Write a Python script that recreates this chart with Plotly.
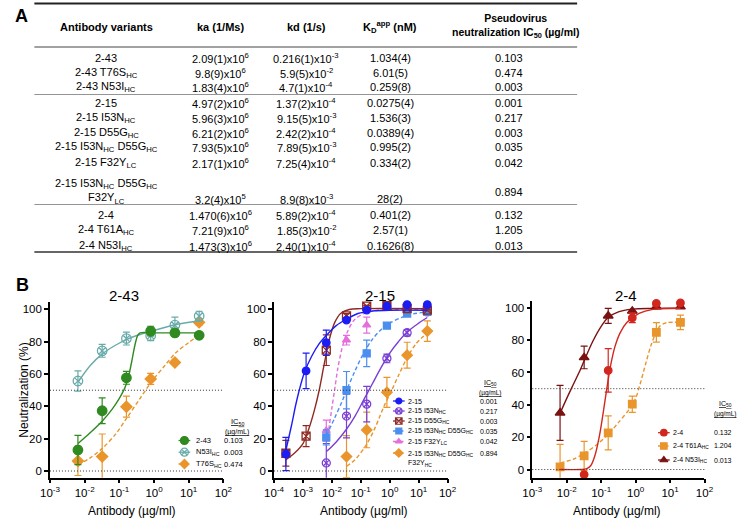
import numpy as np
import plotly.graph_objects as go

W, H = 744, 518
FONT = "Liberation Sans, Arial, sans-serif"

# ---------------- Panel A: table data ----------------
variants = ["2-43", "2-43 T76S<sub>HC</sub>", "2-43 N53I<sub>HC</sub>",
            "2-15", "2-15 I53N<sub>HC</sub>", "2-15 D55G<sub>HC</sub>",
            "2-15 I53N<sub>HC</sub> D55G<sub>HC</sub>", "2-15 F32Y<sub>LC</sub>",
            "2-15 I53N<sub>HC</sub> D55G<sub>HC</sub><br>F32Y<sub>LC</sub>",
            "2-4", "2-4 T61A<sub>HC</sub>", "2-4 N53I<sub>HC</sub>"]
ka = ["2.09(1)x10<sup>6</sup>", "9.8(9)x10<sup>6</sup>", "1.83(4)x10<sup>6</sup>",
      "4.97(2)x10<sup>6</sup>", "5.96(3)x10<sup>6</sup>", "6.21(2)x10<sup>6</sup>",
      "7.93(5)x10<sup>6</sup>", "2.17(1)x10<sup>6</sup>", "3.2(4)x10<sup>5</sup>",
      "1.470(6)x10<sup>6</sup>", "7.21(9)x10<sup>6</sup>", "1.473(3)x10<sup>6</sup>"]
kd = ["0.216(1)x10<sup>-3</sup>", "5.9(5)x10<sup>-2</sup>", "4.7(1)x10<sup>-4</sup>",
      "1.37(2)x10<sup>-4</sup>", "9.15(5)x10<sup>-3</sup>", "2.42(2)x10<sup>-4</sup>",
      "7.89(5)x10<sup>-3</sup>", "7.25(4)x10<sup>-4</sup>", "8.9(8)x10<sup>-3</sup>",
      "5.89(2)x10<sup>-4</sup>", "1.85(3)x10<sup>-2</sup>", "2.40(1)x10<sup>-4</sup>"]
kd_app = ["1.034(4)", "6.01(5)", "0.259(8)", "0.0275(4)", "1.536(3)", "0.0389(4)",
          "0.995(2)", "0.334(2)", "28(2)", "0.401(2)", "2.57(1)", "0.1626(8)"]
ic50_table = ["0.103", "0.474", "0.003", "0.001", "0.217", "0.003", "0.035",
              "0.042", "0.894", "0.132", "1.205", "0.013"]
table_headers = ["Antibody variants", "ka (1/Ms)", "kd (1/s)",
                 "K<sub>D</sub><sup>app</sup> (nM)",
                 "Pseudovirus<br>neutralization IC<sub>50</sub> (µg/ml)"]

# ---------------- Panel B: neutralization data ----------------
# concentrations (µg/ml)
conc6 = [0.0064, 0.032, 0.16, 0.8, 4, 20]
conc8 = [0.000256, 0.00128, 0.0064, 0.032, 0.16, 0.8, 4, 20]
conc5 = [0.032, 0.16, 0.8, 4, 20]
conc3 = [0.0064, 0.032, 0.16]

# 2-43 panel
ab243_y = [13, 37.3, 57.7, 86.6, 85.5, 84]
ab243_err = [9, 8, 4, 3, 2, 1]
n53i_243_y = [55.7, 74.4, 82, 83.7, 90.3, 95.9]
n53i_243_err = [6.3, 4, 4, 3, 5, 3]
t76s_y = [6.2, 8.9, 39.8, 57, 67.2, 92]
t76s_err = [9, 14, 6.5, 3.4, 0, 1.5]

# 2-15 panel
ab215_y = [10.5, 62, 79.4, 93.4, 99.6, 102, 103, 103]
ab215_err = [10.3, 11, 7.8, 1, 0.5, 0.5, 0.5, 0.5]
d55g_y = [11, 21.6, 74.8, 96, 102, 102.4, 100.6, 99.6]
d55g_err = [8, 6.5, 9.5, 1.5, 0.5, 0.5, 0.5, 0.5]
i53n_y = [5, 34, 41.4, 69.7, 85.6, 98.5]
i53n_err = [12, 13.5, 11, 2.7, 2, 1.5]
i53n_d55g_y = [20.8, 50, 72.8, 90, 97.5, 98.5]
i53n_d55g_err = [4.7, 11.6, 8.2, 1, 1, 1]
f32y_y = [25, 81, 90.3]
f32y_err = [6.5, 3, 5]
triple_y = [8.9, 25.4, 48.7, 71.7, 86.6]
triple_err = [13, 11, 9.3, 8, 6.3]

# 2-4 panel
ab24_y = [-3.1, 61.3, 93.8, 102.7, 103]
ab24_err = [0, 13.5, 3, 1, 1]
t61a_y = [1.6, 8.4, 22.7, 40.4, 84.8, 91]
t61a_err = [14, 9, 10.5, 5, 6, 4.5]
n53i_24_y = [35, 69.3, 95, 98, 100.6, 100.6]
n53i_24_err = [17, 7, 4.6, 0, 1, 1]

# fitted curves (log10 concentration, % neutralization)
c_ab243_x = [-2.19, -1.85, -1.49, -1.2, -1.0, -0.85, -0.75, -0.65, -0.55, -0.47, -0.4, 0.0, 1.3]
c_ab243_y = [17, 23.5, 31, 38.5, 45, 51, 57, 67, 78, 84, 85.5, 85.5, 85.5]
c_n53i_243_x = [-2.19, -1.85, -1.49, -1.1, -0.78, -0.4, 0.0, 0.6, 1.3]
c_n53i_243_y = [55, 65, 72.5, 78, 81.5, 84.5, 87, 90.5, 93]
c_t76s_x = [-2.19, -1.85, -1.49, -1.1, -0.78, -0.4, -0.08, 0.3, 0.62, 1.0, 1.3]
c_t76s_y = [3.7, 8, 14, 23, 33, 45, 55, 65, 73, 79.5, 84]

c_ab215_x = [-3.59, -3.4, -3.25, -3.13, -2.95, -2.7, -2.45, -2.19, -1.85, -1.49, -1.1, -0.6, 0.0, 1.3]
c_ab215_y = [13, 28, 41, 50, 61, 71, 78.5, 84, 90, 94, 97.5, 99, 99.5, 99.5]
c_d55g_x = [-3.59, -3.3, -3.0, -2.8, -2.6, -2.44, -2.3, -2.19, -2.05, -1.9, -1.7, -1.4, -1.0, 1.3]
c_d55g_y = [7, 11, 17, 26, 38, 50, 63, 73, 84, 92, 97.5, 100, 100.5, 100.5]
c_f32y_x = [-2.19, -2.1, -2.0, -1.9, -1.8, -1.65, -1.49, -1.25, -0.9, -0.4, 0.5, 1.3]
c_f32y_y = [18, 27, 39, 51, 63, 76, 85, 93, 97.5, 99.5, 100, 100]
c_i53n_d55g_x = [-2.19, -1.9, -1.65, -1.49, -1.2, -0.9, -0.6, -0.3, 0.0, 0.4, 0.8, 1.3]
c_i53n_d55g_y = [22, 33, 43, 50, 62, 73, 81.5, 87.5, 91.5, 95, 97.2, 98.5]
c_i53n_x = [-2.19, -1.85, -1.49, -1.2, -0.9, -0.6, -0.3, 0.0, 0.3, 0.6, 1.0, 1.3]
c_i53n_y = [12, 18, 26, 34, 44, 54, 64, 73, 80, 86, 91.5, 95]
c_triple_x = [-1.49, -1.2, -0.8, -0.5, -0.2, 0.07, 0.3, 0.6, 0.9, 1.3]
c_triple_y = [3, 7, 16.5, 27, 40, 50, 59, 70, 78.5, 85.5]

c_ab24_x = [-2.19, -1.6, -1.42, -1.3, -1.19, -1.05, -0.95, -0.83, -0.72, -0.6, -0.45, -0.25, 0.1, 0.5, 1.3]
c_ab24_y = [0, 0, 0.5, 2.5, 8, 21, 34, 51, 65, 76, 84.5, 91, 96.5, 99, 99.7]
c_n53i_24_x = [-2.19, -2.0, -1.8, -1.6, -1.49, -1.25, -1.0, -0.8, -0.5, -0.1, 0.5, 1.3]
c_n53i_24_y = [35, 44, 53, 62, 67.5, 79, 88.5, 94, 97.5, 99.2, 99.6, 99.7]
c_t61a_x = [-2.19, -1.8, -1.49, -1.15, -0.83, -0.5, -0.16, 0.0, 0.12, 0.3, 0.45, 0.6, 0.72, 0.9, 1.3]
c_t61a_y = [4, 6.5, 10, 15, 21, 29, 38, 44, 52, 66, 77, 85, 89, 90.8, 91]

# legend texts
p1_labels = ["2-43", "N53I<sub>HC</sub>", "T76S<sub>HC</sub>"]
p1_ic50 = ["0.103", "0.003", "0.474"]
p2_labels = ["2-15", "2-15 I53N<sub>HC</sub>", "2-15 D55G<sub>HC</sub>",
             "2-15 I53N<sub>HC</sub> D55G<sub>HC</sub>", "2-15 F32Y<sub>LC</sub>",
             "2-15 I53N<sub>HC</sub> D55G<sub>HC</sub><br>F32Y<sub>HC</sub>"]
p2_ic50 = ["0.001", "0.217", "0.003", "0.035", "0.042", "0.894"]
p3_labels = ["2-4", "2-4 T61A<sub>HC</sub>", "2-4 N53I<sub>HC</sub>"]
p3_ic50 = ["0.132", "1.204", "0.013"]

panel_titles = ["2-43", "2-15", "2-4"]
xtick_vals = [1e-4, 1e-3, 1e-2, 1e-1, 1, 10, 100]
xtick_text = ["10<sup>-4</sup>", "10<sup>-3</sup>", "10<sup>-2</sup>", "10<sup>-1</sup>",
              "10<sup>0</sup>", "10<sup>1</sup>", "10<sup>2</sup>"]

# colours
GREEN = "#2f8a1f"
TEAL = "#69abaa"
ORANGE = "#e9952c"
BLUE = "#1c1cf5"
PURPLE = "#7a3fd4"
BROWN = "#8e2a22"
LBLUE = "#4a8ff0"
PINK = "#e46edb"
RED = "#d2271e"
MAROON = "#7a1212"
DASH = "4px,2.5px"


def fx(p):
    return p / W


def fy(p):
    return 1 - p / H


fig = go.Figure()
ann = []
shapes = []

# ---------------- Panel A ----------------
ann.append(dict(text="<b>A</b>", x=fx(11.5), y=fy(16), font=dict(size=18)))
ann.append(dict(text="<b>B</b>", x=fx(13), y=fy(285), font=dict(size=18)))

col_x = [99, 216, 304, 390, 519]
hdr_y = [27, 27, 27, 27, 26.5]
hdr_fs = [11, 11, 11, 11, 10.5]
for i, t in enumerate(table_headers):
    ann.append(dict(text="<b>" + t + "</b>", x=fx(col_x[i]), y=fy(hdr_y[i]),
                    font=dict(size=hdr_fs[i])))
row_y = [58.5, 73, 87.5, 102.5, 117.5, 132.5, 147.5, 162.5, 191.5, 214.5, 230, 245.5]
for r in range(len(variants)):
    yv = row_y[r]
    yval = 198.5 if "<br>" in variants[r] else yv
    ann.append(dict(text=variants[r], x=fx(col_x[0]), y=fy(yv), font=dict(size=11)))
    ann.append(dict(text=ka[r], x=fx(col_x[1]), y=fy(yval), font=dict(size=11)))
    ann.append(dict(text=kd[r], x=fx(col_x[2]), y=fy(yval), font=dict(size=11)))
    ann.append(dict(text=kd_app[r], x=fx(col_x[3]), y=fy(yval), font=dict(size=11)))
    ann.append(dict(text=ic50_table[r], x=fx(512), y=fy(yv), font=dict(size=11)))

for yy, col, wd in [(3.5, "#222", 1.8), (47, "#444", 1.2), (94.5, "#888", 0.9),
                    (204.5, "#888", 0.9), (252, "#333", 1.3)]:
    shapes.append(dict(type="line", xref="paper", yref="paper", x0=fx(25), x1=fx(582),
                       y0=fy(yy), y1=fy(yy), line=dict(color=col, width=wd)))

# ---------------- Panel B axes ----------------
doms = [((41, 219), (301.7, 477.7), [-3, 2], [-4.15, 104.8]),
        ((271, 449), (301.7, 477.7), [-4, 2], [-4.15, 104.8]),
        ((536, 712.7), (301.0, 477.7), [-3, 2], [-5.05, 104.2])]
title_x = [117, 380, 632]
xtitle_x = [125, 363, 623]
axis_common = dict(showline=True, linecolor="black", linewidth=1.5, ticks="outside",
                   ticklen=4, tickwidth=1.5, tickcolor="black", showgrid=False,
                   zeroline=False, tickfont=dict(size=11.5, color="black", family=FONT))
layout_axes = {}
for i, (xd, yd, xr, yr) in enumerate(doms):
    n = "" if i == 0 else str(i + 1)
    layout_axes["xaxis" + n] = dict(axis_common, type="log", domain=[fx(xd[0]), fx(xd[1])],
                                    range=xr, anchor="y" + n, tickvals=xtick_vals,
                                    ticktext=xtick_text)
    layout_axes["yaxis" + n] = dict(axis_common, domain=[fy(yd[1]), fy(yd[0])], range=yr,
                                    anchor="x" + n, tickvals=[0, 20, 40, 60, 80, 100])
    for lvl in (50, 0):
        shapes.append(dict(type="line", xref="x" + n + " domain", yref="y" + n,
                           x0=0, x1=1, y0=lvl, y1=lvl,
                           line=dict(color="#333", width=1, dash="1px,2px")))
    ann.append(dict(text=panel_titles[i], x=fx(title_x[i]), y=fy(295), font=dict(size=15)))
    ann.append(dict(text="Antibody (µg/ml)", x=fx(xtitle_x[i]), y=fy(510.5),
                    font=dict(size=12)))
ann.append(dict(text="Neutralization (%)", x=fx(14), y=fy(390), textangle=-90,
                font=dict(size=12)))

# overlay canvas (pixel coordinates) used only for the legend keys
layout_axes["xaxis4"] = dict(domain=[0, 1], range=[0, W], visible=False,
                             anchor="y4", fixedrange=True)
layout_axes["yaxis4"] = dict(domain=[0, 1], range=[H, 0], visible=False,
                             anchor="x4", fixedrange=True)


def add_series(n, conc, vals, errs, color, symbol, size, cx, cy, dash):
    xa, ya = "x" + n, "y" + n
    fig.add_trace(go.Scatter(x=[10 ** v for v in cx], y=cy, mode="lines", xaxis=xa, yaxis=ya,
                             line=dict(color=color, width=1.4, dash=dash, shape="spline",
                                       smoothing=0.9),
                             showlegend=False, hoverinfo="skip"))
    fig.add_trace(go.Scatter(x=conc, y=vals, mode="markers", xaxis=xa, yaxis=ya,
                             marker=dict(color=color, symbol=symbol, size=size,
                                         line=dict(color=color, width=1.3)),
                             error_y=dict(type="data", array=errs, color=color,
                                          thickness=1.2, width=3.5),
                             cliponaxis=False, showlegend=False))


# panel 2-43
add_series("", conc6, t76s_y, t76s_err, ORANGE, "diamond", 8.5, c_t76s_x, c_t76s_y, DASH)
add_series("", conc6, n53i_243_y, n53i_243_err, TEAL, "circle-x-open", 9.5,
           c_n53i_243_x, c_n53i_243_y, "solid")
add_series("", conc6, ab243_y, ab243_err, GREEN, "circle", 9.5, c_ab243_x, c_ab243_y, "solid")

# panel 2-15
add_series("2", conc5, triple_y, triple_err, ORANGE, "diamond", 8, c_triple_x, c_triple_y, DASH)
add_series("2", conc6, i53n_y, i53n_err, PURPLE, "circle-x-open", 8, c_i53n_x, c_i53n_y, "solid")
add_series("2", conc3, f32y_y, f32y_err, PINK, "triangle-up", 7, c_f32y_x, c_f32y_y, DASH)
add_series("2", conc6, i53n_d55g_y, i53n_d55g_err, LBLUE, "square", 7,
           c_i53n_d55g_x, c_i53n_d55g_y, DASH)
add_series("2", conc8, d55g_y, d55g_err, BROWN, "square-x-open", 8, c_d55g_x, c_d55g_y, "solid")
add_series("2", conc8, ab215_y, ab215_err, BLUE, "circle", 7.5, c_ab215_x, c_ab215_y, "solid")

# panel 2-4
add_series("3", conc6, t61a_y, t61a_err, ORANGE, "square", 7.5, c_t61a_x, c_t61a_y, DASH)
add_series("3", conc6, n53i_24_y, n53i_24_err, MAROON, "triangle-up", 8.5,
           c_n53i_24_x, c_n53i_24_y, "solid")
add_series("3", conc5, ab24_y, ab24_err, RED, "circle", 7.5, c_ab24_x, c_ab24_y, "solid")

# ---------------- legends (drawn on overlay canvas) ----------------
legends = [
    dict(kx=179, tx=189, vx=241, hx=233, hy=(422, 432), rows=[440.5, 452.2, 464], fs=7.5,
         labels=p1_labels, ic=p1_ic50,
         styles=[(GREEN, "circle", 8, "solid"), (TEAL, "circle-x-open", 8, "solid"),
                 (ORANGE, "diamond", 7, DASH)]),
    dict(kx=399, tx=406, vx=503, hx=493, hy=(383, 393), rows=[401, 411, 421, 431, 441.5, 453],
         fs=7, labels=p2_labels, ic=p2_ic50,
         styles=[(BLUE, "circle", 6, "solid"), (PURPLE, "circle-x-open", 6.5, "solid"),
                 (BROWN, "square-x-open", 6.5, "solid"), (LBLUE, "square", 6, DASH),
                 (PINK, "triangle-up", 6, DASH), (ORANGE, "diamond", 6.5, DASH)]),
    dict(kx=671, tx=678, vx=743, hx=734, hy=(404, 414), rows=[432.7, 446, 460], fs=7,
         labels=p3_labels, ic=p3_ic50,
         styles=[(RED, "circle", 6.5, "solid"), (ORANGE, "square", 6.5, DASH),
                 (MAROON, "triangle-up", 7, "solid")]),
]
for lg in legends:
    for j, (col, sym, sz, dash) in enumerate(lg["styles"]):
        ry = lg["rows"][j]
        fig.add_trace(go.Scatter(x=[lg["kx"] - 6, lg["kx"] + 6], y=[ry, ry], mode="lines",
                                 xaxis="x4", yaxis="y4",
                                 line=dict(color=col, width=1.3, dash=dash),
                                 showlegend=False, hoverinfo="skip"))
        fig.add_trace(go.Scatter(x=[lg["kx"]], y=[ry], mode="markers", xaxis="x4", yaxis="y4",
                                 marker=dict(color=col, symbol=sym, size=sz,
                                             line=dict(color=col, width=1.2)),
                                 showlegend=False, hoverinfo="skip"))
        lab = lg["labels"][j]
        if "<br>" in lab:
            ann.append(dict(text=lab, x=fx(lg["tx"]), y=fy(ry - 5), xanchor="left",
                            yanchor="top", align="left", font=dict(size=lg["fs"])))
        else:
            ann.append(dict(text=lab, x=fx(lg["tx"]), y=fy(ry), xanchor="left",
                            font=dict(size=lg["fs"])))
        ann.append(dict(text=lg["ic"][j], x=fx(lg["vx"]), y=fy(ry), xanchor="right",
                        font=dict(size=lg["fs"])))
    ann.append(dict(text="<u>IC<sub>50</sub></u>", x=fx(lg["hx"]), y=fy(lg["hy"][0]),
                    font=dict(size=lg["fs"])))
    ann.append(dict(text="<u>(µg/mL)</u>", x=fx(lg["hx"]), y=fy(lg["hy"][1]),
                    font=dict(size=lg["fs"] - 0.5)))

for a in ann:
    a.setdefault("xref", "paper")
    a.setdefault("yref", "paper")
    a.setdefault("showarrow", False)
    a.setdefault("xanchor", "center")
    a.setdefault("yanchor", "middle")
    a["font"] = dict(a.get("font", {}), family=FONT, color="black")

fig.update_layout(width=W, height=H, margin=dict(l=0, r=0, t=0, b=0),
                  paper_bgcolor="white", plot_bgcolor="rgba(0,0,0,0)",
                  font=dict(family=FONT, color="black"), hovermode=False,
                  showlegend=False, annotations=ann, shapes=shapes, **layout_axes)

# remove the default 8 px page margin so the figure fills the window exactly
fig.write_html("out.html", config={"displayModeBar": False},
               post_script="document.body.style.margin='0';")
